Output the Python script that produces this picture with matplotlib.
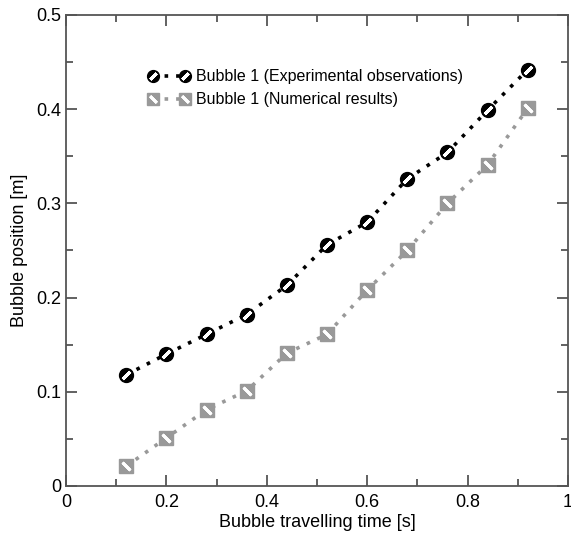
import matplotlib
matplotlib.use("Agg")
import matplotlib.pyplot as plt
from matplotlib.legend_handler import HandlerTuple
from matplotlib.ticker import MultipleLocator

plt.rcParams['font.family'] = ['Liberation Sans', 'DejaVu Sans']

time_s = [0.12, 0.20, 0.28, 0.36, 0.44, 0.52, 0.60, 0.68, 0.76, 0.84, 0.92]
exp_pos = [0.118, 0.140, 0.161, 0.182, 0.213, 0.256, 0.280, 0.326, 0.354, 0.399, 0.442]
num_pos = [0.021, 0.051, 0.081, 0.101, 0.141, 0.161, 0.208, 0.250, 0.300, 0.341, 0.401]
exp_label = "Bubble 1 (Experimental observations)"
num_label = "Bubble 1 (Numerical results)"

fig = plt.figure(figsize=(5.71, 5.34), dpi=100)
ax = fig.add_axes([0.1156, 0.0899, 0.879, 0.8821])

gray = '#999999'
ms = 10
l1, = ax.plot(time_s, exp_pos, color='black', linestyle=(0, (1, 2.2)), lw=2.6,
              marker='o', ms=ms, mfc='black', mec='black', mew=1.0, zorder=3)
s1, = ax.plot(time_s, exp_pos, linestyle='none', marker=(2, 2, -45), ms=ms * 0.75,
              mec='white', mew=2.2, zorder=4)
l2, = ax.plot(time_s, num_pos, color=gray, linestyle=(0, (1, 2.2)), lw=2.6,
              marker='s', ms=ms * 0.95, mfc=gray, mec=gray, mew=1.0, zorder=3)
s2, = ax.plot(time_s, num_pos, linestyle='none', marker=(2, 2, 45), ms=ms * 0.8,
              mec='white', mew=2.0, zorder=4)

ax.set_xlim(0, 1)
ax.set_ylim(0, 0.5)
ax.xaxis.set_minor_locator(MultipleLocator(0.1))
ax.yaxis.set_minor_locator(MultipleLocator(0.05))
ax.set_xticks([0, 0.2, 0.4, 0.6, 0.8, 1.0])
ax.set_xticklabels(['0', '0.2', '0.4', '0.6', '0.8', '1'])
ax.set_yticks([0, 0.1, 0.2, 0.3, 0.4, 0.5])
ax.set_yticklabels(['0', '0.1', '0.2', '0.3', '0.4', '0.5'])

spc = '#555555'
for sp in ax.spines.values():
    sp.set_color(spc)
    sp.set_linewidth(1.3)
ax.tick_params(which='both', direction='in', top=True, right=True, color=spc,
               labelsize=13, width=1.3)
ax.tick_params(which='major', length=8)
ax.tick_params(which='minor', length=5)
ax.tick_params(axis='x', pad=6)

ax.set_xlabel('Bubble travelling time [s]', fontsize=13, labelpad=2)
ax.set_ylabel('Bubble position [m]', fontsize=13, labelpad=6)

leg = ax.legend([(l1, s1), (l2, s2)], [exp_label, num_label],
                handler_map={tuple: HandlerTuple(ndivide=1, pad=0)},
                numpoints=2, handlelength=2.6, handletextpad=0.4,
                markerscale=0.85,
                frameon=False, fontsize=11.5, loc='upper left',
                bbox_to_anchor=(0.135, 0.915), labelspacing=0.5)

fig.savefig('out.png', dpi=100)
